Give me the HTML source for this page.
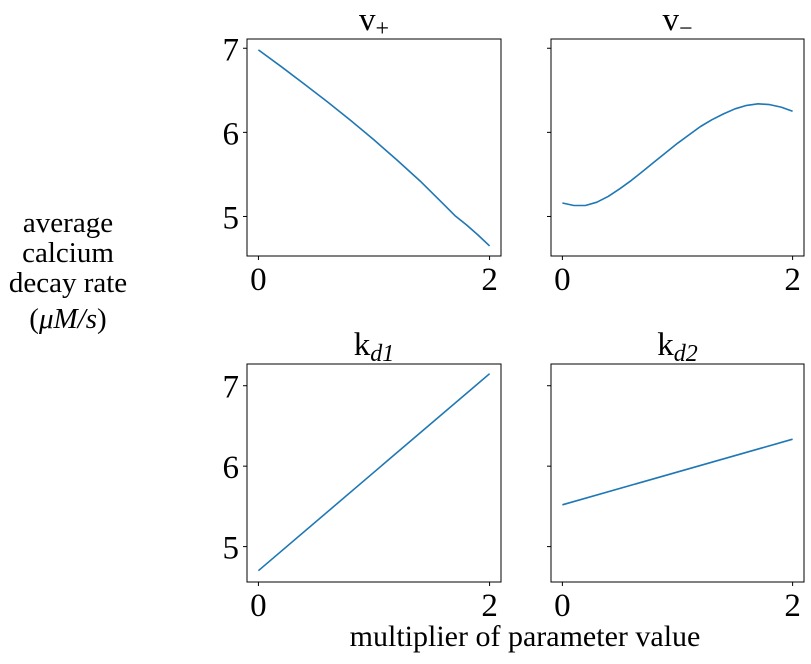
<!DOCTYPE html>
<html><head><meta charset="utf-8"><style>
body{margin:0;background:#fff}
svg text{font-family:"Liberation Serif","DejaVu Serif",serif;fill:#000}
</style></head><body>
<svg width="811" height="659" viewBox="0 0 811 659" xmlns="http://www.w3.org/2000/svg">
<g id="root"></g>
<text x="68" y="232" font-size="29" text-anchor="middle"><tspan x="68" y="232">average</tspan><tspan x="68" y="262">calcium</tspan><tspan x="68" y="292">decay rate</tspan><tspan x="68" y="328">(<tspan font-style="italic">μM/s</tspan>)</tspan></text>
<text x="525" y="646" font-size="30" text-anchor="middle">multiplier of parameter value</text>
</svg>
<script>
const vpX=[0,0.2,0.4,0.6,0.8,1,1.2,1.4,1.6,1.7,1.8,1.9,2];
const vpY=[6.98,6.78,6.57,6.36,6.14,5.91,5.67,5.42,5.15,5.01,4.9,4.78,4.65];
const vmX=[0,0.1,0.2,0.3,0.4,0.5,0.6,0.7,0.8,0.9,1,1.1,1.2,1.3,1.4,1.5,1.6,1.7,1.8,1.9,2];
const vmY=[5.16,5.13,5.13,5.17,5.24,5.33,5.43,5.54,5.65,5.76,5.87,5.97,6.07,6.15,6.22,6.28,6.32,6.34,6.33,6.3,6.25];
const kd1X=[0,2];
const kd1Y=[4.7,7.15];
const kd2X=[0,2];
const kd2Y=[5.52,6.335];
const xTicks=[0,2];
const yTicks=[5,6,7];
const panelTitles=["v","v","k","k"];
const topYlim=[4.53,7.11];
const botYlim=[4.56,7.27];
const NS="http://www.w3.org/2000/svg";
const root=document.getElementById('root');
function mk(t,a,p){const e=document.createElementNS(NS,t);for(const k in a)e.setAttribute(k,a[k]);(p||root).appendChild(e);return e;}
const panels=[
{l:247,r:501,t:39,b:256,yl:topYlim,xs:vpX,ys:vpY,labels:true,name:"v-plus",sub:"+",subIt:false},
{l:551,r:804,t:39,b:256,yl:topYlim,xs:vmX,ys:vmY,labels:false,name:"v-minus",sub:"−",subIt:false},
{l:247,r:501,t:364,b:582,yl:botYlim,xs:kd1X,ys:kd1Y,labels:true,name:"kd1",sub:"d1",subIt:true},
{l:551,r:804,t:364,b:582,yl:botYlim,xs:kd2X,ys:kd2Y,labels:false,name:"kd2",sub:"d2",subIt:true}];
panels.forEach((p,i)=>{
  const g=mk('g',{});
  
  
  const x0=p.l+(p.r-p.l)*0.045, x2=p.r-(p.r-p.l)*0.045;
  const sx=v=>x0+(x2-x0)*v/2;
  const sy=v=>p.b-(v-p.yl[0])/(p.yl[1]-p.yl[0])*(p.b-p.t);
  const fr=mk('rect',{x:p.l,y:p.t,width:p.r-p.l,height:p.b-p.t,fill:'none',stroke:'#000','stroke-width':1},g);
  
  
  xTicks.forEach(v=>{
    mk('line',{x1:sx(v),x2:sx(v),y1:p.b,y2:p.b+4,stroke:'#000'},g);
    const t=mk('text',{x:sx(v),y:p.b+34,'font-size':33,'text-anchor':'middle'},g);t.textContent=v;
    
    
  });
  yTicks.forEach(v=>{
    mk('line',{x1:p.l-4,x2:p.l,y1:sy(v),y2:sy(v),stroke:'#000'},g);
    if(p.labels){const t=mk('text',{x:p.l-8,y:sy(v)+12,'font-size':33,'text-anchor':'end'},g);t.textContent=v;
    
    }
  });
  const d=p.xs.map((x,j)=>(j?'L':'M')+sx(x).toFixed(1)+' '+sy(p.ys[j]).toFixed(1)).join(' ');
  const ln=mk('path',{d:d,fill:'none',stroke:'#1f77b4','stroke-width':1.6,'stroke-linejoin':'round'},g);
  
  
  const cx=(p.l+p.r)/2;
  const tt=mk('text',{x:cx,y:p.t-9,'font-size':33,'text-anchor':'middle'},g);
  
  
  tt.appendChild(document.createTextNode(panelTitles[i]));
  const s=mk('tspan',{'font-size':24,dy:6},tt);
  if(p.subIt)s.setAttribute('font-style','italic');
  s.textContent=p.sub;
});
</script>
</body></html>
